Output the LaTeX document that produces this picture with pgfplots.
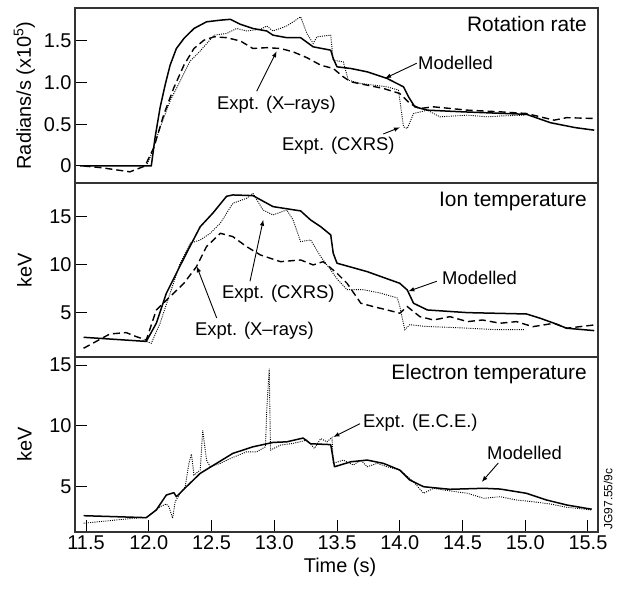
\documentclass[border=0pt]{standalone}
\usepackage{pgfplots}
\pgfplotsset{compat=1.18}
\usetikzlibrary{arrows.meta}
\usepackage{fontspec}
\setmainfont{Liberation Sans}
\newcommand{\fsz}[1]{\fontsize{#1}{#1}\selectfont}
\pgfplotsset{
  panel/.style={
    scale only axis, width=523bp, xmin=11.412, xmax=15.58,
    axis line style={line width=1.1bp, black!80},
    tick style={line width=1bp, black},
    tick align=inside, major tick length=12bp,
    xtick pos=left, ytick pos=left,
    ticklabel style={font=\fsz{20}},
    label style={font=\fsz{20}},
    ylabel style={at={(axis description cs:-0.0966,0.5)}, anchor=center},
    /pgf/number format/assume math mode=true,
    no markers,
  },
  mod/.style={black, line width=1.5bp, line join=round},
  xr/.style={black, line width=1.4bp, dash pattern=on 7bp off 4bp},
  cx/.style={black, line width=0.9bp, dash pattern=on 1bp off 1.2bp},
}
\begin{document}
\begin{tikzpicture}
\path (0bp,0bp) rectangle (619bp,589bp);
% Panel 1: rotation rate
\begin{axis}[panel, at={(75bp,406bp)}, anchor=south west, height=175bp,
  ymin=-0.204, ymax=1.896, ytick={0,0.5,1,1.5}, yticklabels={0,0.5,1.0,1.5},
  xtick=\empty, ylabel={Radians/s (x10\textsuperscript{5})}]
\addplot[mod] coordinates {(11.45,0)(12.02,0)(12.05,0.34)(12.09,0.70)(12.13,0.97)(12.17,1.21)(12.22,1.41)(12.28,1.53)(12.36,1.65)(12.46,1.73)(12.57,1.75)(12.65,1.76)(12.73,1.70)(12.83,1.65)(12.94,1.62)(12.99,1.57)(13.10,1.54)(13.21,1.54)(13.31,1.43)(13.45,1.39)(13.47,1.29)(13.50,1.19)(13.61,1.17)(13.74,1.13)(13.90,1.05)(14.03,0.95)(14.07,0.83)(14.12,0.71)(14.22,0.67)(14.50,0.65)(15.01,0.62)(15.20,0.52)(15.40,0.46)(15.55,0.43)};
\addplot[xr] coordinates {(11.48,0)(11.62,-0.02)(11.85,-0.07)(11.97,0)(12.04,0.22)(12.12,0.62)(12.20,0.94)(12.28,1.21)(12.36,1.41)(12.44,1.51)(12.52,1.55)(12.62,1.54)(12.73,1.50)(12.83,1.41)(12.94,1.42)(13.05,1.41)(13.15,1.37)(13.26,1.30)(13.37,1.21)(13.47,1.17)(13.55,1.07)(13.61,1.01)(13.74,0.97)(13.87,0.93)(14.00,0.87)(14.08,0.75)(14.16,0.69)(14.27,0.71)(14.54,0.67)(14.80,0.65)(15.01,0.63)(15.12,0.59)(15.23,0.55)(15.33,0.58)(15.55,0.57)};
\addplot[cx] coordinates {(11.98,0)(12.02,0.14)(12.09,0.46)(12.17,0.78)(12.25,1.02)(12.33,1.26)(12.41,1.38)(12.52,1.57)(12.62,1.59)(12.70,1.65)(12.78,1.62)(12.89,1.64)(12.94,1.68)(12.99,1.62)(13.10,1.68)(13.21,1.79)(13.26,1.59)(13.31,1.47)(13.34,1.55)(13.45,1.57)(13.47,1.27)(13.55,1.25)(13.59,1.03)(13.69,0.99)(13.90,0.95)(13.99,0.91)(14.03,0.47)(14.06,0.45)(14.11,0.63)(14.22,0.67)(14.32,0.59)(14.54,0.61)(14.70,0.59)(14.80,0.60)(15.00,0.61)};
\end{axis}
% Panel 2: ion temperature
\begin{axis}[panel, at={(75bp,232bp)}, anchor=south west, height=174bp,
  ymin=0.32, ymax=18.52, ytick={5,10,15},
  xtick=\empty, ylabel={keV}]
\addplot[mod] coordinates {(11.48,2.38)(11.98,1.95)(12.06,3.85)(12.14,6.99)(12.22,9.08)(12.30,11.17)(12.41,13.95)(12.51,15.36)(12.62,17.13)(12.67,17.27)(12.83,17.2)(12.99,16.05)(13.21,15.6)(13.29,14.65)(13.37,13.95)(13.45,13.09)(13.47,11.17)(13.50,10.13)(13.74,9.25)(14.00,8.03)(14.06,7.33)(14.11,5.94)(14.22,5.24)(14.54,4.96)(15.01,4.82)(15.12,4.37)(15.23,3.85)(15.33,3.33)(15.55,3.08)};
\addplot[xr] coordinates {(11.48,1.23)(11.69,2.73)(11.82,2.87)(11.90,2.45)(11.98,2.10)(12.06,5.24)(12.17,6.63)(12.28,8.03)(12.38,9.77)(12.46,11.86)(12.57,13.26)(12.67,12.91)(12.78,11.86)(12.89,10.99)(13.05,10.29)(13.21,10.47)(13.31,9.95)(13.39,10.29)(13.50,9.08)(13.58,8.03)(13.69,5.94)(13.79,5.59)(13.90,5.24)(14.00,4.90)(14.06,5.59)(14.16,4.54)(14.27,4.19)(14.40,4.54)(14.54,4.02)(14.66,4.19)(14.80,3.85)(14.93,4.02)(15.06,3.49)(15.23,3.85)(15.33,3.33)(15.55,3.67)};
\addplot[cx] coordinates {(11.95,2.1)(12.02,1.76)(12.09,3.85)(12.17,6.99)(12.25,10.13)(12.33,12.22)(12.41,12.56)(12.49,13.26)(12.57,14.31)(12.67,16.40)(12.78,16.92)(12.83,17.45)(12.91,15.70)(12.99,15.18)(13.10,15.70)(13.15,14.65)(13.21,12.39)(13.29,12.56)(13.37,10.82)(13.45,9.42)(13.50,8.5)(13.58,7.36)(13.71,7.36)(13.84,7.02)(13.98,6.50)(14.00,5.63)(14.04,3.18)(14.08,3.70)(14.19,3.53)(14.50,3.36)(14.77,3.18)(14.99,3.18)};
\end{axis}
% Panel 3: electron temperature
\begin{axis}[panel, at={(75bp,57bp)}, anchor=south west, height=175bp,
  ymin=1.28, ymax=15.66, ytick={5,10,15},
  xtick={11.5,12,12.5,13,13.5,14,14.5,15,15.5},
  xticklabels={11.5,12.0,12.5,13.0,13.5,14.0,14.5,15.0,15.5},
  ylabel={keV}, xlabel={Time (s)},
  xlabel style={at={(axis description cs:0.5,0)}, anchor=base, yshift=-40.5bp, xshift=3.5bp}]
\addplot[mod] coordinates {(11.48,2.62)(11.98,2.46)(12.06,3.09)(12.14,4.32)(12.20,4.51)(12.22,4.18)(12.30,5.00)(12.41,6.10)(12.54,6.92)(12.67,7.74)(12.83,8.28)(12.99,8.64)(13.10,8.69)(13.23,9.0)(13.29,8.53)(13.45,8.46)(13.48,6.64)(13.61,7.05)(13.74,7.19)(13.87,6.92)(14.00,6.37)(14.08,5.55)(14.19,5.00)(14.40,4.79)(14.67,4.87)(14.80,4.81)(15.01,4.46)(15.17,3.91)(15.33,3.50)(15.53,3.15)};
\addplot[cx] coordinates {(11.48,2.00)(11.88,2.41)(11.98,2.46)(12.09,3.36)(12.14,3.58)(12.16,3.36)(12.19,2.41)(12.21,3.77)(12.25,4.45)(12.29,5.00)(12.32,6.92)(12.34,7.68)(12.36,5.96)(12.41,6.37)(12.43,9.65)(12.46,7.19)(12.49,6.64)(12.57,6.92)(12.67,7.41)(12.78,7.87)(12.86,7.87)(12.93,8.28)(12.94,11.29)(12.96,14.70)(12.97,8.01)(13.05,8.42)(13.15,8.56)(13.26,8.83)(13.32,8.15)(13.37,8.96)(13.42,8.69)(13.46,9.05)(13.47,6.92)(13.55,7.19)(13.63,6.78)(13.69,7.19)(13.74,6.64)(13.82,6.92)(13.90,6.64)(14.00,6.37)(14.11,5.41)(14.19,4.46)(14.27,4.87)(14.35,4.73)(14.54,4.46)(14.67,4.05)(14.80,4.18)(14.93,3.91)(15.06,3.77)(15.20,3.58)(15.33,3.31)(15.53,3.09)};
\end{axis}
% Titles
\node[anchor=base east, font=\fsz{21}, inner sep=0] at (587bp,557.5bp) {Rotation rate};
\node[anchor=base east, font=\fsz{21}, inner sep=0] at (587bp,382bp) {Ion temperature};
\node[anchor=base east, font=\fsz{21}, inner sep=0] at (587bp,209.3bp) {Electron temperature};
% Annotations
\begin{scope}[every node/.style={anchor=base west, font=\fsz{18.5}, inner sep=0},
  arr/.style={line width=0.9bp, -{Latex[length=6bp,width=4.5bp]}}]
\node at (418bp,519.7bp) {Modelled};
\draw[arr] (416.7bp,525.7bp) -- (385bp,510.7bp);
\node at (217bp,479.5bp) {Expt. (X–rays)};
\draw[arr] (256.7bp,497.7bp) -- (276.7bp,537.7bp);
\node at (282bp,438.5bp) {Expt. (CXRS)};
\draw[arr] (383.3bp,455bp) -- (400bp,461.7bp);
\node at (222bp,290.1bp) {Expt. (CXRS)};
\draw[arr] (250bp,307.7bp) -- (263.3bp,369.3bp);
\node at (195bp,253.5bp) {Expt. (X–rays)};
\draw[arr] (216.7bp,271bp) -- (196.7bp,322.7bp);
\node at (442bp,304.5bp) {Modelled};
\draw[arr] (436.7bp,307.7bp) -- (408.3bp,297.7bp);
\node at (363bp,161.5bp) {Expt. (E.C.E.)};
\draw[arr] (360bp,165.3bp) -- (333.3bp,152bp);
\node at (487bp,129.5bp) {Modelled};
\draw[arr] (498.3bp,126bp) -- (481.7bp,107bp);
\end{scope}
\node[rotate=90, font=\fsz{12}, inner sep=0] at (608bp,90bp) {JG97.55/9c};
\end{tikzpicture}
\end{document}
